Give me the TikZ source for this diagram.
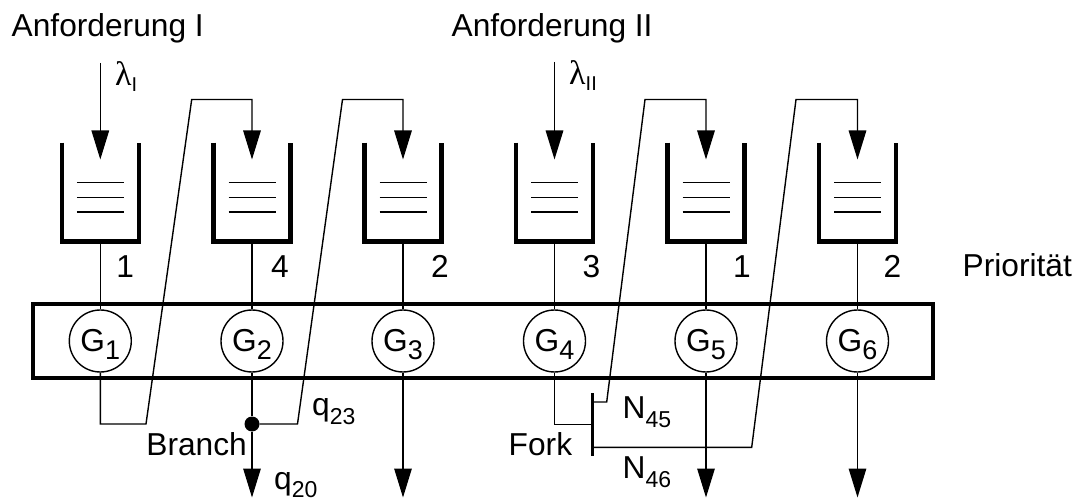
\documentclass[tikz,border=0pt]{standalone}
\usepackage{fontspec}
\setmainfont{Liberation Sans}
\newfontfamily\grk{Liberation Serif}
\usetikzlibrary{arrows.meta}
\newcommand\mfs{\fontsize{31.7pt}{36pt}\selectfont}
\newcommand\gsub[1]{\smash{\raisebox{-8pt}{\fontsize{27pt}{30pt}\selectfont #1}}}
\newcommand\qsub[1]{\smash{\raisebox{-9pt}{\fontsize{23pt}{26pt}\selectfont #1}}}
\newcommand\qsubb[1]{\smash{\raisebox{-7.5pt}{\fontsize{23pt}{26pt}\selectfont #1}}}
\newcommand\lsub[1]{\smash{\raisebox{-6pt}{\fontsize{20pt}{22pt}\selectfont #1}}}
\newcommand\lam{{\grk\fontsize{34pt}{36pt}\selectfont λ}}
\begin{document}
\begin{tikzpicture}[x=1pt,y=-1pt,
  thinline/.style={line width=1.4pt},
  arr/.style={line width=1.4pt, -{Triangle[length=29pt,width=17.5pt]}},
  wall/.style={line width=4.5pt, line join=miter},
  srv/.style={circle, draw, line width=1.4pt, minimum size=62pt, inner sep=0pt, fill=white, font=\mfs},
  txt/.style={inner sep=0pt, font=\mfs},
]
\useasboundingbox (0,0) rectangle (1081,502);
% bus box
\node[draw, line width=4.7pt, minimum width=900pt, minimum height=74pt, inner sep=0pt] (bus) at (483,341) {};
% queues and servers
\foreach \i/\c in {1/100.3,2/252,3/403,4/554.5,5/706,6/857.5}{
  \draw[wall] ({\c-38.5},142.7) -- ({\c-38.5},241.7) -- ({\c+38.5},241.7) -- ({\c+38.5},142.7);
  \foreach \yy in {182.7,197.3,212}{
    \draw[thinline] ({\c-23.5},\yy) -- ({\c+23.5},\yy);
  }
  \coordinate (Qt\i) at (\c,159.5);
  \coordinate (Qb\i) at (\c,241.7);
  \coordinate (O\i) at (\c,497.5);
  \node[srv] (G\i) at (\c,341) {G\gsub{\i}};
  \draw[thinline] (Qb\i) -- (G\i.north);
}
% inputs
\coordinate (I1) at (100.3,63);
\coordinate (I4) at (554.5,62);
\draw[arr] (I1) -- (Qt1);
\draw[arr] (I4) -- (Qt4);
% G1 -> queue 2
\draw[arr] (G1.south) |- (146,424) -- (191.7,99.5) -| (Qt2);
% branch at G2
\node[circle, fill, inner sep=0pt, minimum size=15pt] (br) at (252,424) {};
\draw[thinline] (G2.south) -- (br);
\draw[arr] (br) -- (O2);
\draw[arr] (br) -- (297.5,424) -- (342.5,99.5) -| (Qt3);
% outputs
\draw[arr] (G3.south) -- (O3);
\draw[arr] (G5.south) -- (O5);
\draw[arr] (G6.south) -- (O6);
% fork at G4
\node[fill, inner sep=0pt, minimum width=3pt, minimum height=63pt] (fork) at (592.3,424.6) {};
\draw[thinline] (G4.south) |- (fork.west);
\coordinate (f45) at (593.8,402);
\coordinate (f46) at (593.8,447.3);
\draw[arr] (f45) -- (606.7,402) -- (645,99.5) -| (Qt5);
\draw[arr] (f46) -- (751.7,447.3) -- (796,99.5) -| (Qt6);
% labels
\node[txt, anchor=base west] (anf1) at (11.5,36.7) {Anforderung I};
\node[txt, anchor=base west] (anf2) at (451.5,36.7) {Anforderung II};
\node[inner sep=0pt, anchor=base west] (lam1) at (115,86) {\lam\lsub{I}};
\node[inner sep=0pt, anchor=base west] (lam2) at (569,85) {\lam\lsub{II}};
\node[txt, anchor=base] (p1) at (125.3,277.3) {1};
\node[txt, anchor=base] (p2) at (280,277.3) {4};
\node[txt, anchor=base] (p3) at (440,277.3) {2};
\node[txt, anchor=base] (p4) at (591.5,277.3) {3};
\node[txt, anchor=base] (p5) at (742,277.3) {1};
\node[txt, anchor=base] (p6) at (892.5,277.3) {2};
\node[txt, anchor=base west] (prio) at (962.5,276.7) {Priorität};
\node[txt, anchor=base west] (lq23) at (312,415) {q\qsub{23}};
\node[txt, anchor=base west] (lq20) at (274,489.5) {q\qsubb{20}};
\node[txt, anchor=base east] (lbr) at (247,455) {Branch};
\node[txt, anchor=base west] (lfork) at (508.5,455) {Fork};
\node[txt, anchor=base west] (ln45) at (622.5,418.3) {N\qsub{45}};
\node[txt, anchor=base west] (ln46) at (622.5,478.3) {N\qsub{46}};
\end{tikzpicture}
\end{document}
